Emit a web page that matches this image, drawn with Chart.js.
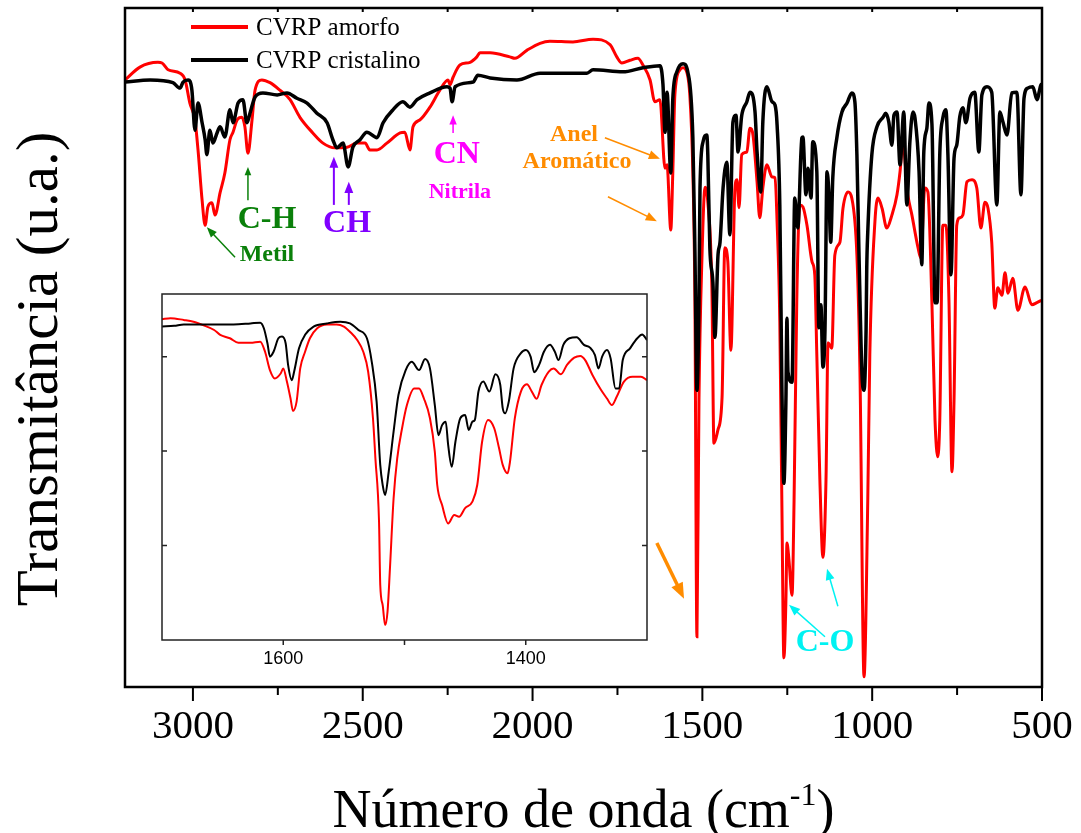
<!DOCTYPE html>
<html>
<head>
<meta charset="utf-8">
<title>FTIR CVRP amorfo / cristalino</title>
<script src="https://cdn.jsdelivr.net/npm/chart.js@4/dist/chart.umd.min.js"></script>
<style>
  body { margin: 0; background: #fff; }
  #grafico { position: absolute; left: 0; top: 0; }
  #detalhe { position: absolute; left: 140px; top: 284px; }
</style>
</head>
<body>
<canvas id="grafico" width="1081" height="833"></canvas>
<canvas id="detalhe" width="520" height="400"></canvas>
<script>
// espectro completo - CVRP amorfo (vermelho)
const amorfoOnda = [3200, 3156, 3103, 3091, 3073, 3038, 3023, 3009, 2994, 2985, 2973, 2964, 2956, 2944, 2935, 2920, 2906, 2891, 2882, 2870,
  2856, 2847, 2838, 2826, 2817, 2797, 2773, 2744, 2714, 2685, 2647, 2617, 2582, 2546, 2517, 2493, 2479, 2458, 2429, 2390,
  2376, 2361, 2352, 2332, 2302, 2273, 2249, 2243, 2234, 2214, 2184, 2164, 2155, 2125, 2067, 2052, 2016, 1978, 1949, 1881,
  1822, 1772, 1752, 1737, 1713, 1690, 1675, 1654, 1640, 1625, 1610, 1604, 1593, 1587, 1581, 1566, 1557, 1545, 1537, 1528,
  1522, 1516, 1510, 1501, 1492, 1484, 1472, 1466, 1454, 1442, 1434, 1425, 1416, 1404, 1398, 1392, 1384, 1369, 1360, 1351,
  1339, 1331, 1322, 1310, 1295, 1286, 1280, 1272, 1266, 1260, 1254, 1251, 1245, 1236, 1230, 1222, 1213, 1204, 1192, 1177,
  1169, 1163, 1154, 1145, 1136, 1130, 1119, 1110, 1095, 1086, 1071, 1060, 1045, 1036, 1024, 1013, 1007, 992, 983, 971,
  957, 942, 927, 918, 910, 895, 883, 865, 857, 845, 836, 824, 815, 807, 801, 792, 783, 774, 765, 759,
  751, 742, 733, 721, 706, 692, 680, 668, 659, 648, 639, 630, 618, 609, 600, 586, 571, 550, 530, 515, 500]
const amorfoTrans = [89.4, 91.3, 92.0, 91.9, 90.9, 90.4, 89.4, 86.0, 83.5, 79.1, 71.7, 68.0, 70.7, 71.3, 69.5, 72.8, 75.7, 80.6, 81.7, 83.5,
  83.9, 82.5, 78.6, 83.5, 87.9, 89.4, 89.0, 87.9, 86.5, 83.9, 81.6, 80.1, 79.4, 79.5, 80.1, 80.1, 79.1, 79.1, 80.1, 81.6,
  81.7, 79.1, 82.5, 83.5, 85.4, 87.9, 89.4, 88.7, 89.8, 91.6, 92.0, 92.8, 93.4, 93.4, 92.8, 92.6, 93.8, 94.8, 95.1, 95.0,
  95.4, 94.6, 92.8, 91.9, 92.3, 92.6, 91.6, 89.4, 86.2, 86.5, 76.4, 76.9, 67.3, 75.9, 87.2, 90.9, 91.2, 90.4, 87.2, 75.9,
  57.0, 7.4, 42.3, 63.6, 73.6, 71.4, 58.8, 35.9, 37.9, 42.7, 64.7, 62.6, 49.6, 73.5, 74.7, 70.6, 78.4, 78.8, 82.3, 81.3,
  74.4, 69.1, 73.5, 76.9, 75.1, 75.0, 68.5, 53.8, 27.5, 4.3, 12.8, 21.2, 18.7, 13.5, 27.5, 57.0, 71.0, 70.7, 68.0, 62.6,
  60.7, 48.9, 30.5, 19.1, 30.5, 50.7, 49.9, 63.6, 65.5, 70.5, 72.9, 72.0, 63.6, 46.4, 1.5, 27.5, 48.9, 68.5, 72.0, 70.5,
  67.6, 69.5, 72.5, 75.9, 80.1, 72.5, 69.5, 64.7, 63.2, 73.5, 72.9, 56.3, 39.3, 33.9, 39.3, 68.0, 68.0, 57.0, 31.7, 42.3,
  68.0, 69.1, 69.5, 74.4, 74.7, 73.5, 67.6, 71.4, 70.5, 65.5, 55.8, 58.8, 57.7, 61.0, 58.0, 60.2, 55.5, 58.9, 56.3, 56.6, 57.0]

// espectro completo - CVRP cristalino (preto)
const cristalinoOnda = [3200, 3126, 3059, 3038, 3029, 3014, 3003, 2994, 2985, 2973, 2964, 2959, 2950, 2941, 2929, 2920, 2906, 2891, 2882, 2867,
  2853, 2841, 2832, 2817, 2794, 2752, 2723, 2694, 2664, 2635, 2605, 2588, 2576, 2558, 2543, 2529, 2508, 2488, 2458, 2440,
  2411, 2382, 2361, 2340, 2302, 2252, 2243, 2237, 2228, 2175, 2161, 2125, 2046, 1978, 1840, 1822, 1734, 1675, 1625, 1616,
  1610, 1604, 1593, 1587, 1575, 1557, 1543, 1528, 1522, 1516, 1510, 1507, 1498, 1487, 1484, 1478, 1469, 1463, 1454, 1448,
  1439, 1428, 1419, 1410, 1401, 1395, 1384, 1369, 1360, 1345, 1339, 1328, 1322, 1310, 1295, 1286, 1280, 1272, 1266, 1260,
  1254, 1251, 1248, 1236, 1228, 1219, 1207, 1204, 1195, 1189, 1180, 1175, 1163, 1157, 1151, 1145, 1139, 1133, 1128, 1122,
  1116, 1104, 1089, 1074, 1060, 1051, 1045, 1039, 1030, 1024, 1018, 1016, 1013, 1001, 986, 968, 960, 951, 942, 936,
  927, 918, 907, 898, 889, 880, 874, 862, 854, 848, 839, 833, 824, 815, 809, 801, 792, 783, 777, 768,
  759, 751, 742, 733, 724, 712, 698, 686, 677, 662, 648, 633, 624, 615, 603, 589, 574, 562, 553, 542, 527, 515, 503, 500]
const cristalinoTrans = [89.1, 89.4, 89.0, 88.2, 89.1, 89.4, 87.9, 82.0, 86.0, 83.1, 80.6, 78.4, 82.0, 80.1, 81.6, 82.5, 81.0, 85.0, 83.1, 86.0,
  86.5, 83.1, 84.5, 86.9, 87.5, 87.2, 87.5, 86.7, 86.0, 84.5, 83.1, 80.6, 79.4, 80.1, 76.6, 79.5, 80.6, 81.7, 80.9, 83.1,
  85.0, 86.2, 85.4, 86.5, 87.5, 88.4, 88.2, 86.2, 88.4, 89.1, 90.1, 89.7, 89.4, 90.4, 90.4, 90.9, 90.6, 91.2, 91.5, 88.7,
  81.7, 87.6, 75.7, 86.7, 90.6, 91.8, 90.6, 80.9, 64.4, 43.7, 57.0, 73.5, 80.3, 81.3, 78.4, 64.7, 59.6, 51.5, 63.6, 65.5,
  73.5, 77.3, 66.6, 83.2, 84.2, 78.8, 84.2, 86.2, 87.6, 84.7, 78.8, 72.9, 83.2, 88.4, 86.2, 85.7, 82.8, 71.0, 44.5, 30.0,
  42.3, 54.3, 46.4, 44.9, 72.0, 67.6, 80.9, 81.0, 72.5, 76.4, 72.0, 80.3, 75.9, 52.9, 56.3, 47.1, 52.6, 75.9, 73.2, 65.5,
  75.0, 80.9, 84.7, 86.0, 87.5, 86.2, 78.4, 64.1, 46.0, 43.7, 52.6, 61.7, 67.0, 78.4, 82.5, 83.9, 84.5, 83.2, 79.8, 84.2,
  84.7, 76.9, 84.7, 71.0, 80.3, 84.7, 83.8, 75.9, 62.2, 78.8, 82.3, 86.0, 82.8, 56.6, 56.6, 78.4, 83.8, 85.0, 78.4, 60.7,
  77.9, 79.8, 84.0, 85.3, 83.1, 86.7, 87.6, 78.8, 87.2, 88.4, 87.6, 71.0, 84.7, 83.2, 81.3, 87.5, 87.6, 72.5, 86.7, 88.2, 88.4, 86.5, 88.7, 88.8]

// detalhe 1700-1300 cm-1
const detalheAmorfoOnda = [1700, 1693, 1682, 1674, 1666, 1657, 1652, 1644, 1637, 1627, 1619, 1615, 1611, 1607, 1602, 1600, 1597, 1594, 1592, 1589,
  1586, 1582, 1578, 1572, 1564, 1556, 1550, 1545, 1539, 1534, 1530, 1526, 1524, 1521, 1520, 1518, 1516, 1514, 1512, 1509,
  1506, 1502, 1498, 1492, 1488, 1484, 1479, 1475, 1473, 1469, 1464, 1459, 1455, 1450, 1444, 1440, 1436, 1431, 1426, 1422,
  1419, 1415, 1413, 1409, 1404, 1399, 1395, 1391, 1387, 1381, 1377, 1371, 1366, 1360, 1355, 1351, 1345, 1338, 1333, 1329,
  1325, 1319, 1312, 1305, 1300]
const detalheAmorfoTrans = [92.7, 93.0, 92.5, 92.0, 91.0, 89.6, 88.2, 87.2, 85.9, 85.9, 86.2, 83.3, 78.0, 75.6, 77.1, 78.5, 74.7, 69.8, 66.2, 68.9,
  78.5, 83.3, 87.2, 90.1, 91.2, 91.2, 90.6, 89.1, 86.7, 83.3, 77.6, 64.1, 52.5, 34.1, 15.9, 10.1, 4.3, 8.2, 20.7, 40.9,
  52.5, 61.2, 67.9, 72.7, 72.7, 69.8, 64.1, 54.4, 44.8, 39.0, 33.7, 36.1, 35.6, 38.1, 40.0, 44.8, 57.3, 63.6, 61.2, 55.4,
  50.6, 48.2, 51.5, 64.1, 71.8, 73.9, 71.8, 69.7, 73.7, 77.6, 78.5, 76.8, 79.5, 81.6, 82.1, 80.9, 76.6, 72.3, 69.8, 67.9,
  70.3, 74.7, 76.1, 76.1, 75.1]
const detalheCristalinoOnda = [1700, 1690, 1682, 1668, 1655, 1641, 1627, 1619, 1616, 1613, 1611, 1608, 1604, 1601, 1598, 1596, 1593, 1591, 1587, 1582,
  1575, 1564, 1553, 1545, 1538, 1531, 1527, 1523, 1520, 1518, 1516, 1513, 1509, 1505, 1499, 1494, 1488, 1483, 1479, 1475,
  1472, 1469, 1466, 1464, 1461, 1458, 1454, 1450, 1447, 1444, 1442, 1439, 1435, 1430, 1425, 1421, 1419, 1417, 1414, 1410,
  1404, 1400, 1396, 1393, 1389, 1385, 1380, 1376, 1373, 1369, 1364, 1358, 1352, 1347, 1343, 1340, 1337, 1333, 1330, 1326,
  1323, 1320, 1314, 1308, 1304, 1300]
const detalheCristalinoTrans = [90.6, 90.8, 91.2, 91.2, 91.2, 91.2, 91.5, 91.7, 90.1, 85.7, 81.9, 83.3, 87.2, 87.7, 85.7, 79.5, 75.1, 77.6, 84.3, 88.2,
  90.6, 91.5, 92.0, 91.5, 89.6, 87.2, 80.4, 68.9, 50.6, 44.8, 41.9, 48.7, 60.2, 70.8, 78.0, 80.4, 78.0, 81.2, 78.5, 67.9,
  59.2, 62.1, 63.1, 56.4, 50.1, 57.3, 64.1, 65.0, 60.7, 63.1, 63.6, 71.8, 74.7, 71.8, 76.8, 73.7, 67.0, 65.5, 68.9, 78.5,
  82.9, 83.8, 81.9, 77.4, 79.5, 83.3, 85.3, 83.3, 80.9, 85.3, 87.2, 87.5, 85.3, 84.5, 82.4, 78.5, 81.9, 83.8, 81.4, 72.7,
  72.7, 80.9, 84.3, 87.2, 88.3, 86.7]

// eixos
const rotulosX = [3000, 2500, 2000, 1500, 1000, 500]
const marcasMenoresX = [2750, 2250, 1750, 1250, 750]
const detalheRotulosX = [1600, 1400]
const detalheMarcasX = [1600, 1500, 1400]
const detalheMarcasY = [27.3, 54.6, 81.9]

const verde = '#0a800a', roxo = '#8000ff', magenta = '#ff00ff', laranja = '#ff8c00', ciano = '#00f2f2'
const serif = "'Liberation Serif', 'Times New Roman', serif"

// anotacoes (posicao em numero de onda / transmitancia)
const rotulos = [
  { texto: 'C-H', x: 2782, y: 68.8, cor: verde, tam: 32 },
  { texto: 'Metil', x: 2782, y: 63.6, cor: verde, tam: 24 },
  { texto: 'CH', x: 2546, y: 68.3, cor: roxo, tam: 32 },
  { texto: 'CN', x: 2223, y: 78.4, cor: magenta, tam: 32 },
  { texto: 'Nitrila', x: 2214, y: 72.8, cor: magenta, tam: 22 },
  { texto: 'Anel', x: 1878, y: 81.3, cor: laranja, tam: 24 },
  { texto: 'Aromático', x: 1869, y: 77.3, cor: laranja, tam: 24 },
  { texto: 'C-O', x: 1139, y: 6.5, cor: ciano, tam: 32 },
]
const setas = [
  { de: [2838, 71.7], para: [2838, 76.6], cor: verde, larg: 1.5, cab: 9 },
  { de: [2876, 63.3], para: [2959, 67.7], cor: verde, larg: 1.5, cab: 11 },
  { de: [2585, 71.0], para: [2585, 78.1], cor: roxo, larg: 2, cab: 12 },
  { de: [2541, 71.0], para: [2541, 74.4], cor: roxo, larg: 2, cab: 12 },
  { de: [2234, 81.6], para: [2234, 84.2], cor: magenta, larg: 1.5, cab: 10 },
  { de: [1787, 80.9], para: [1625, 77.8], cor: laranja, larg: 1.5, cab: 12 },
  { de: [1778, 72.2], para: [1634, 68.6], cor: laranja, larg: 1.5, cab: 12 },
  { de: [1634, 21.2], para: [1554, 13.0], cor: laranja, larg: 3.5, cab: 17 },
  { de: [1139, 7.4], para: [1245, 12.1], cor: ciano, larg: 1.5, cab: 12 },
  { de: [1101, 11.9], para: [1133, 17.4], cor: ciano, larg: 1.5, cab: 12 },
]

const pares = (xs, ys) => xs.map((x, i) => ({ x: x, y: ys[i] }))

function seta(ctx, x1, y1, x2, y2, cor, larg, cab) {
  const ang = Math.atan2(y2 - y1, x2 - x1)
  ctx.strokeStyle = cor
  ctx.fillStyle = cor
  ctx.lineWidth = larg
  ctx.beginPath()
  ctx.moveTo(x1, y1)
  ctx.lineTo(x2 - Math.cos(ang) * cab * 0.7, y2 - Math.sin(ang) * cab * 0.7)
  ctx.stroke()
  ctx.beginPath()
  ctx.moveTo(x2, y2)
  ctx.lineTo(x2 - cab * Math.cos(ang - 0.38), y2 - cab * Math.sin(ang - 0.38))
  ctx.lineTo(x2 - cab * Math.cos(ang + 0.38), y2 - cab * Math.sin(ang + 0.38))
  ctx.closePath()
  ctx.fill()
}

const decoracao = {
  id: 'decoracao',
  afterDraw(chart) {
    const { ctx, chartArea: a, scales: { x, y } } = chart
    ctx.save()
    ctx.strokeStyle = '#000'
    ctx.lineWidth = 2.5
    ctx.strokeRect(a.left, a.top, a.right - a.left, a.bottom - a.top)

    // marcas do eixo x (embaixo para fora, em cima para dentro)
    ctx.lineWidth = 2
    ctx.beginPath()
    rotulosX.forEach(v => {
      const px = x.getPixelForValue(v)
      ctx.moveTo(px, a.bottom); ctx.lineTo(px, a.bottom + 14)
      ctx.moveTo(px, a.top); ctx.lineTo(px, a.top + 4)
    })
    marcasMenoresX.forEach(v => {
      const px = x.getPixelForValue(v)
      ctx.moveTo(px, a.bottom); ctx.lineTo(px, a.bottom + 8)
      ctx.moveTo(px, a.top); ctx.lineTo(px, a.top + 4)
    })
    ctx.stroke()

    // titulos dos eixos
    ctx.fillStyle = '#000'
    ctx.textBaseline = 'alphabetic'
    ctx.save()
    ctx.translate(57, 369)
    ctx.rotate(-Math.PI / 2)
    ctx.font = '59px ' + serif
    ctx.textAlign = 'center'
    ctx.fillText('Transmitância (u.a.)', 0, 0)
    ctx.restore()

    const t1 = 'Número de onda (cm', t2 = '-1', t3 = ')'
    ctx.textAlign = 'left'
    ctx.font = '54px ' + serif
    const w1 = ctx.measureText(t1).width, w3 = ctx.measureText(t3).width
    ctx.font = '32px ' + serif
    const w2 = ctx.measureText(t2).width
    let px = (a.left + a.right) / 2 - (w1 + w2 + w3) / 2
    ctx.font = '54px ' + serif
    ctx.fillText(t1, px, 827)
    ctx.font = '32px ' + serif
    ctx.fillText(t2, px + w1, 805)
    ctx.font = '54px ' + serif
    ctx.fillText(t3, px + w1 + w2, 827)

    // legenda
    const legenda = [['CVRP amorfo', '#ff0000', 27], ['CVRP cristalino', '#000000', 60]]
    ctx.font = '25px ' + serif
    ctx.textBaseline = 'middle'
    legenda.forEach(([nome, cor, ly]) => {
      ctx.strokeStyle = cor
      ctx.lineWidth = 4
      ctx.beginPath(); ctx.moveTo(191, ly); ctx.lineTo(248, ly); ctx.stroke()
      ctx.fillStyle = '#000'
      ctx.fillText(nome, 256, ly + 1)
    })

    // anotacoes
    ctx.textAlign = 'center'
    rotulos.forEach(r => {
      ctx.font = 'bold ' + r.tam + 'px ' + serif
      ctx.fillStyle = r.cor
      ctx.fillText(r.texto, x.getPixelForValue(r.x), y.getPixelForValue(r.y))
    })
    setas.forEach(s => {
      seta(ctx, x.getPixelForValue(s.de[0]), y.getPixelForValue(s.de[1]),
        x.getPixelForValue(s.para[0]), y.getPixelForValue(s.para[1]), s.cor, s.larg, s.cab)
    })
    ctx.restore()
  }
}

new Chart(document.getElementById('grafico'), {
  type: 'line',
  data: {
    datasets: [
      { label: 'CVRP amorfo', data: pares(amorfoOnda, amorfoTrans), borderColor: '#ff0000', borderWidth: 3, order: 1 },
      { label: 'CVRP cristalino', data: pares(cristalinoOnda, cristalinoTrans), borderColor: '#000000', borderWidth: 3.5, order: 0 },
    ],
  },
  options: {
    responsive: false,
    animation: false,
    events: [],
    layout: { padding: { top: 8, right: 39, left: 0, bottom: 0 } },
    elements: { point: { radius: 0 }, line: { cubicInterpolationMode: 'monotone' } },
    plugins: { legend: { display: false }, tooltip: { enabled: false } },
    scales: {
      x: {
        type: 'linear', reverse: true, min: 500, max: 3200,
        afterFit: s => { s.height = 146; s.paddingLeft = 0; s.paddingRight = 0 },
        afterBuildTicks: s => { s.ticks = rotulosX.map(v => ({ value: v })) },
        grid: { display: false, drawTicks: false },
        border: { display: false },
        ticks: { callback: v => String(v), color: '#000', font: { family: serif, size: 41 }, padding: 16, autoSkip: false, maxRotation: 0 },
      },
      y: {
        min: 0, max: 100,
        afterFit: s => { s.width = 125 },
        grid: { display: false },
        border: { display: false },
        ticks: { display: false },
      },
    },
  },
  plugins: [decoracao],
})

const molduraDetalhe = {
  id: 'molduraDetalhe',
  beforeDatasetsDraw(chart) {
    const { ctx, chartArea: a } = chart
    ctx.save()
    ctx.fillStyle = '#fff'
    ctx.fillRect(a.left, a.top, a.right - a.left, a.bottom - a.top)
    ctx.restore()
  },
  afterDraw(chart) {
    const { ctx, chartArea: a, scales: { x, y } } = chart
    ctx.save()
    ctx.strokeStyle = '#222'
    ctx.lineWidth = 1.5
    ctx.strokeRect(a.left, a.top, a.right - a.left, a.bottom - a.top)
    ctx.beginPath()
    detalheMarcasX.forEach(v => {
      const px = x.getPixelForValue(v)
      ctx.moveTo(px, a.bottom); ctx.lineTo(px, a.bottom + 5)
    })
    detalheMarcasY.forEach(v => {
      const py = y.getPixelForValue(v)
      ctx.moveTo(a.left, py); ctx.lineTo(a.left + 5, py)
      ctx.moveTo(a.right, py); ctx.lineTo(a.right - 5, py)
    })
    ctx.stroke()
    ctx.restore()
  }
}

new Chart(document.getElementById('detalhe'), {
  type: 'line',
  data: {
    datasets: [
      { label: 'CVRP amorfo', data: pares(detalheAmorfoOnda, detalheAmorfoTrans), borderColor: '#ff0000', borderWidth: 2, order: 1 },
      { label: 'CVRP cristalino', data: pares(detalheCristalinoOnda, detalheCristalinoTrans), borderColor: '#000000', borderWidth: 2, order: 0 },
    ],
  },
  options: {
    responsive: false,
    animation: false,
    events: [],
    layout: { padding: { top: 10, right: 13, left: 0, bottom: 0 } },
    elements: { point: { radius: 0 }, line: { cubicInterpolationMode: 'monotone' } },
    plugins: { legend: { display: false }, tooltip: { enabled: false } },
    scales: {
      x: {
        type: 'linear', reverse: true, min: 1300, max: 1700,
        afterFit: s => { s.height = 44; s.paddingLeft = 0; s.paddingRight = 0 },
        afterBuildTicks: s => { s.ticks = detalheRotulosX.map(v => ({ value: v })) },
        grid: { display: false, drawTicks: false },
        border: { display: false },
        ticks: { callback: v => String(v), color: '#000', font: { family: "'Liberation Sans', Arial, sans-serif", size: 18 }, padding: 8, autoSkip: false, maxRotation: 0 },
      },
      y: {
        min: 0, max: 100,
        afterFit: s => { s.width = 22 },
        grid: { display: false },
        border: { display: false },
        ticks: { display: false },
      },
    },
  },
  plugins: [molduraDetalhe],
})
</script>
</body>
</html>
